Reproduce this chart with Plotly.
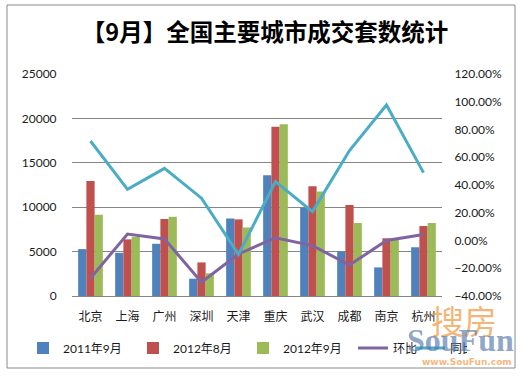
import plotly.graph_objects as go

# ---- data ----
cities = ["北京", "上海", "广州", "深圳", "天津", "重庆", "武汉", "成都", "南京", "杭州"]
sep2011 = [5280, 4860, 5880, 1950, 8730, 13600, 9950, 5000, 3220, 5490]
aug2012 = [12960, 6380, 8670, 3780, 8630, 19050, 12350, 10260, 6500, 7880]
sep2012 = [9150, 6660, 8920, 2560, 7720, 19350, 11780, 8220, 6320, 8220]
mom = [-0.272, 0.047, 0.011, -0.300, -0.097, 0.020, -0.037, -0.177, 0.000, 0.044]   # 环比
yoy = [0.717, 0.369, 0.520, 0.305, -0.100, 0.424, 0.208, 0.648, 0.977, 0.489]       # 同比

left_ticks = [0, 5000, 10000, 15000, 20000, 25000]
right_ticks = [-0.4, -0.2, 0.0, 0.2, 0.4, 0.6, 0.8, 1.0, 1.2]

title_text = "【9月】全国主要城市成交套数统计"
bar_names = ["2011年9月", "2012年8月", "2012年9月"]
line_names = ["环比", "同比"]

# ---- style ----
C_BLUE, C_RED, C_GREEN = "#4F81BD", "#C0504D", "#9BBB59"
C_PURPLE, C_CYAN = "#8064A2", "#4BACC6"
FONT = "Lato, 'Noto Sans CJK SC', sans-serif"
CJK = "'Noto Sans CJK SC', sans-serif"

W, H = 530, 378
L, R, T, B = 72, 88, 74, 82
PW, PH = W - L - R, H - T - B


def px_x(px):
    return (px - L) / PW


def px_y(py):
    return (H - B - py) / PH


fig = go.Figure()
for name, vals, col in zip(bar_names, [sep2011, aug2012, sep2012], [C_BLUE, C_RED, C_GREEN]):
    fig.add_trace(go.Bar(x=cities, y=vals, name=name, marker=dict(color=col, line=dict(width=0)),
                         legend="legend"))

for name, vals, col in zip(line_names, [mom, yoy], [C_PURPLE, C_CYAN]):
    fig.add_trace(go.Scatter(x=cities, y=vals, name=name, mode="lines", yaxis="y2",
                             line=dict(color=col, width=3), legend="legend2"))

fig.update_layout(
    width=W, height=H, autosize=False,
    margin=dict(l=L, r=R, t=T, b=B, autoexpand=False),
    paper_bgcolor="white", plot_bgcolor="white",
    barmode="group", bargap=0.333, bargroupgap=0,
    font=dict(family=FONT, size=12, color="#1a1a1a"),
    title=dict(text=title_text, x=0.5, xref="container", xanchor="center",
               y=1 - 33 / H, yref="container", yanchor="middle",
               font=dict(family=CJK, size=23.5, color="#000000", weight="bold")),
    xaxis=dict(type="category", showgrid=False, showline=True, linecolor="#868686", linewidth=1,
               ticks="outside", ticklen=10, tickcolor="rgba(0,0,0,0)",
               tickfont=dict(family=CJK, size=12, color="#1a1a1a")),
    yaxis=dict(range=[0, 25000], tickvals=left_ticks, tickformat="d", showgrid=True,
               gridcolor="#868686", gridwidth=1, zeroline=False, showline=False,
               ticks="outside", ticklen=12, tickcolor="rgba(0,0,0,0)", tickfont=dict(size=12)),
    yaxis2=dict(range=[-0.4, 1.2], tickvals=right_ticks, tickformat=".2%", overlaying="y",
                side="right", showgrid=False, zeroline=False, showline=False,
                ticks="outside", ticklen=9, tickcolor="rgba(0,0,0,0)", tickfont=dict(size=12)),
    legend=dict(orientation="h", x=px_x(23), xanchor="left", y=px_y(348), yanchor="middle",
                entrywidth=65, entrywidthmode="pixels", font=dict(size=12),
                bgcolor="rgba(0,0,0,0)", traceorder="normal"),
    legend2=dict(orientation="h", x=px_x(353), xanchor="left", y=px_y(348), yanchor="middle",
                 entrywidth=12, entrywidthmode="pixels", font=dict(size=12), itemwidth=30,
                 bgcolor="rgba(0,0,0,0)", traceorder="normal"),
    showlegend=True,
)

# outer chart border
fig.add_shape(type="rect", xref="paper", yref="paper",
              x0=px_x(7), x1=px_x(515), y0=px_y(368), y1=px_y(5),
              line=dict(color="#8a8a8a", width=1), fillcolor="rgba(0,0,0,0)", layer="below")

# source watermark
fig.add_annotation(text="搜房", xref="paper", yref="paper", x=px_x(464), y=px_y(320),
                   xanchor="center", yanchor="middle", showarrow=False,
                   font=dict(family=CJK, size=33, color="rgba(240,150,60,0.7)"))
fig.add_annotation(text="<b>SouFun</b>", xref="paper", yref="paper", x=px_x(460), y=px_y(340),
                   xanchor="center", yanchor="middle", showarrow=False,
                   font=dict(family="'Liberation Serif', serif", size=32, color="rgba(80,115,170,0.65)"))
fig.add_annotation(text="<b>www.SouFun.com</b>", xref="paper", yref="paper", x=px_x(467), y=px_y(362),
                   xanchor="center", yanchor="middle", showarrow=False,
                   font=dict(family="'DejaVu Sans', sans-serif", size=9, color="rgba(240,150,60,0.7)"))

fig.write_html("out.html", config={"displayModeBar": False},
               post_script="document.body.style.margin='0';")
